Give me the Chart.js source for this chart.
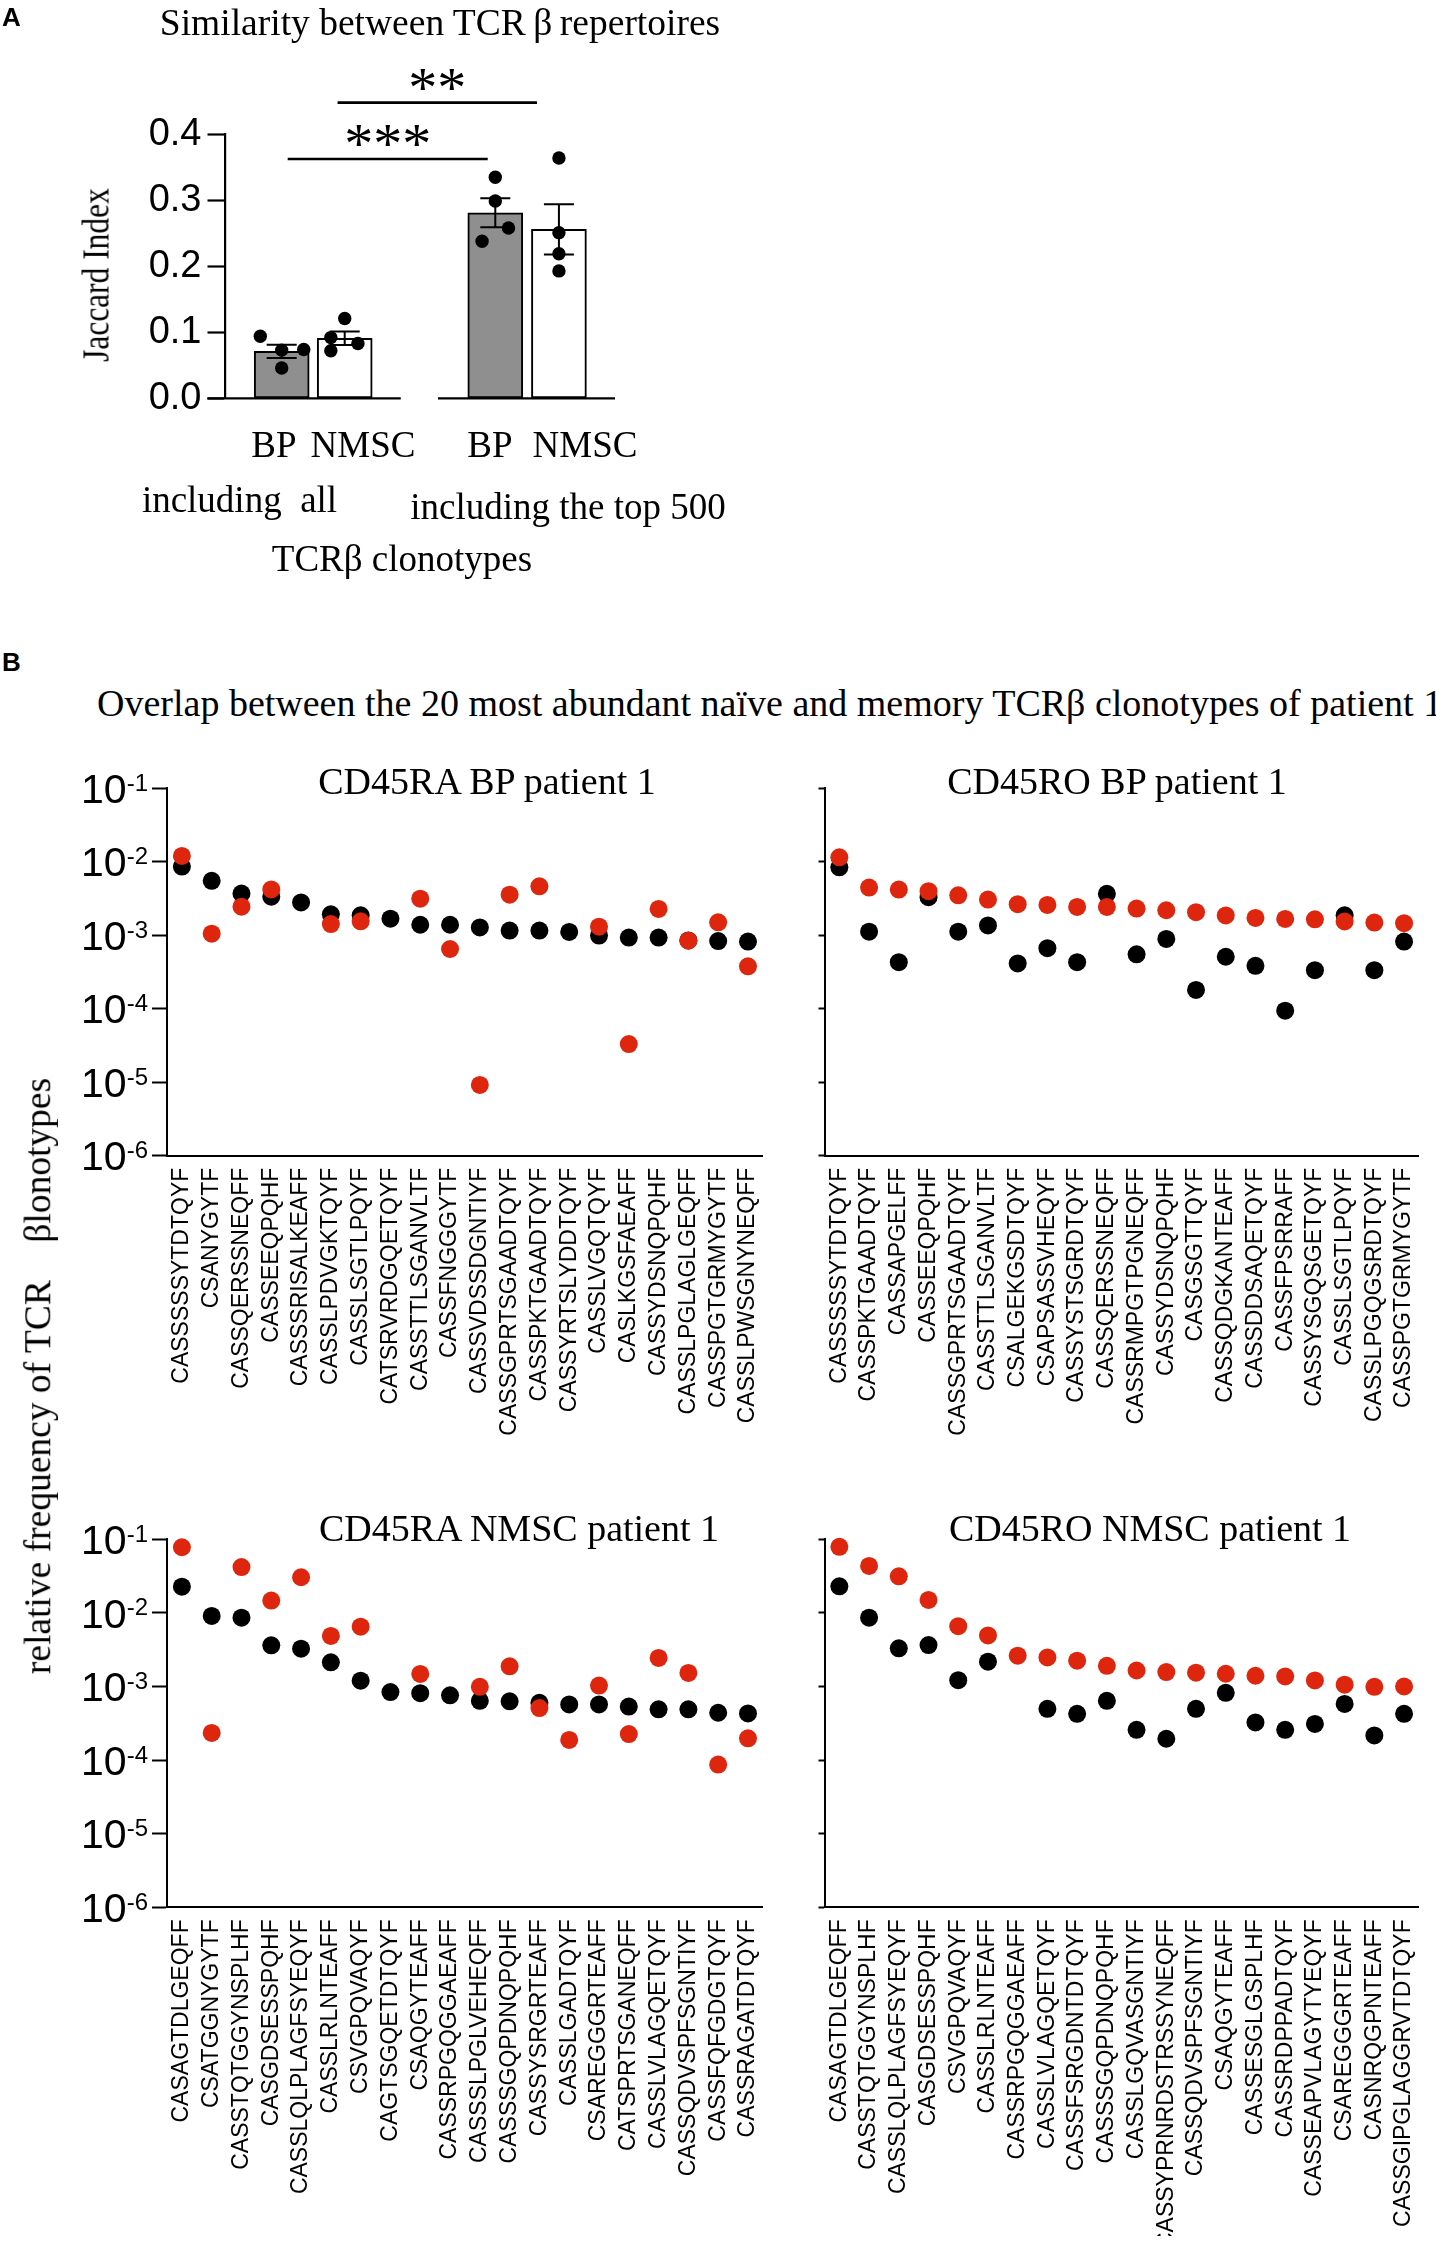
<!DOCTYPE html>
<html>
<head>
<meta charset="utf-8">
<script src="https://cdn.jsdelivr.net/npm/chart.js@4.4.1/dist/chart.umd.min.js"></script>
<style>
  body { margin: 0; background: #fff; width: 1436px; height: 2242px; position: relative; overflow: hidden; }
  canvas { position: absolute; }
  .t { position: absolute; white-space: pre; color: #000; line-height: 1; font-family: "Liberation Serif", "Times New Roman", serif; }
  .panel { font-family: "Liberation Sans", Arial, sans-serif; font-weight: bold; }
</style>
</head>
<body>
<canvas id="jaccard"></canvas>
<canvas id="raBP"></canvas>
<canvas id="roBP"></canvas>
<canvas id="raNMSC"></canvas>
<canvas id="roNMSC"></canvas>
<script>
// ---------- panel A: Jaccard index ----------
const groupLabels = ['BP', 'NMSC', 'BP', 'NMSC'];
const groupNames = ['including  all', 'including the top 500'];
const jaccardMean = [0.071, 0.091, 0.281, 0.256];
const jaccardSem = [0.0101, 0.0101, 0.022, 0.038];
const jaccardDots = [
  [0.094, 0.073, 0.074, 0.046],
  [0.121, 0.092, 0.083, 0.072],
  [0.335, 0.299, 0.258, 0.238],
  [0.364, 0.251, 0.219, 0.193]
];
const jaccardTicks = [0, 0.1, 0.2, 0.3, 0.4];
const sigLabels = ['***', '**'];

// ---------- panel B: top 20 clonotypes ----------
const yExponents = [-6, -5, -4, -3, -2, -1];

const raBPLabels = ['CASSSSSYTDTQYF', 'CSANYGYTF', 'CASSQERSSNEQFF', 'CASSEEQPQHF', 'CASSSRISALKEAFF',
  'CASSLPDVGKTQYF', 'CASSLSGTLPQYF', 'CATSRVRDGQETQYF', 'CASSTTLSGANVLTF', 'CASSFNGGGYTF',
  'CASSVDSSDGNTIYF', 'CASSGPRTSGAADTQYF', 'CASSPKTGAADTQYF', 'CASSYRTSLYDDTQYF', 'CASSLVGQTQYF',
  'CASLKGSFAEAFF', 'CASSYDSNQPQHF', 'CASSLPGLAGLGEQFF', 'CASSPGTGRMYGYTF', 'CASSLPWSGNYNEQFF'];
const raBPBlack = [8.6e-3, 5.5e-3, 3.7e-3, 3.35e-3, 2.8e-3, 1.93e-3, 1.87e-3, 1.68e-3, 1.39e-3, 1.39e-3,
  1.28e-3, 1.16e-3, 1.16e-3, 1.11e-3, 0.99e-3, 0.93e-3, 0.93e-3, 0.85e-3, 0.835e-3, 0.82e-3];
const raBPRed = [1.2e-2, 1.05e-3, 2.45e-3, 4.2e-3, null, 1.42e-3, 1.55e-3, null, 3.15e-3, 6.5e-4,
  9.2e-6, 3.57e-3, 4.64e-3, null, 1.31e-3, 3.3e-5, 2.28e-3, 8.45e-4, 1.5e-3, 3.78e-4];

const roBPLabels = ['CASSSSSYTDTQYF', 'CASSPKTGAADTQYF', 'CASSAPGELFF', 'CASSEEQPQHF', 'CASSGPRTSGAADTQYF',
  'CASSTTLSGANVLTF', 'CSALGEKGSDTQYF', 'CSAPSASSVHEQYF', 'CASSYSTSGRDTQYF', 'CASSQERSSNEQFF',
  'CASSRMPGTPGNEQFF', 'CASSYDSNQPQHF', 'CASGSGTTQYF', 'CASSQDGKANTEAFF', 'CASSDDSAQETQYF',
  'CASSFPSRRAFF', 'CASSYSGQSGETQYF', 'CASSLSGTLPQYF', 'CASSLPGQGSRDTQYF', 'CASSPGTGRMYGYTF'];
const roBPBlack = [8.4e-3, 1.12e-3, 4.3e-4, 3.3e-3, 1.12e-3, 1.36e-3, 4.13e-4, 6.67e-4, 4.3e-4, 3.66e-3,
  5.5e-4, 8.9e-4, 1.8e-4, 5.1e-4, 3.84e-4, 9.4e-5, 3.35e-4, 1.87e-3, 3.35e-4, 8.2e-4];
const roBPRed = [1.15e-2, 4.46e-3, 4.19e-3, 3.98e-3, 3.5e-3, 3.06e-3, 2.65e-3, 2.59e-3, 2.43e-3, 2.43e-3,
  2.31e-3, 2.19e-3, 2.06e-3, 1.86e-3, 1.72e-3, 1.67e-3, 1.65e-3, 1.54e-3, 1.49e-3, 1.46e-3];

const raNMSCLabels = ['CASAGTDLGEQFF', 'CSATGGNYGYTF', 'CASSTQTGGYNSPLHF', 'CASGDSESSPQHF', 'CASSLQLPLAGFSYEQYF',
  'CASSLRLNTEAFF', 'CSVGPQVAQYF', 'CAGTSGQETDTQYF', 'CSAQGYTEAFF', 'CASSRPGQGGAEAFF',
  'CASSSLPGLVEHEQFF', 'CASSSGQPDNQPQHF', 'CASSYSRGRTEAFF', 'CASSLGADTQYF', 'CSAREGGGRTEAFF',
  'CATSPRTSGANEQFF', 'CASSLVLAGQETQYF', 'CASSQDVSPFSGNTIYF', 'CASSFQFGDGTQYF', 'CASSRAGATDTQYF'];
const raNMSCBlack = [2.27e-2, 9.1e-3, 8.6e-3, 3.63e-3, 3.27e-3, 2.13e-3, 1.2e-3, 8.4e-4, 8.1e-4, 7.6e-4,
  6.4e-4, 6.3e-4, 6.0e-4, 5.7e-4, 5.7e-4, 5.33e-4, 4.9e-4, 4.9e-4, 4.4e-4, 4.3e-4];
const raNMSCRed = [7.8e-2, 2.34e-4, 4.2e-2, 1.47e-2, 3.05e-2, 4.86e-3, 6.5e-3, null, 1.48e-3, null,
  9.9e-4, 1.88e-3, 5.1e-4, 1.88e-4, 1.03e-3, 2.26e-4, 2.44e-3, 1.53e-3, 8.7e-5, 1.98e-4];

const roNMSCLabels = ['CASAGTDLGEQFF', 'CASSTQTGGYNSPLHF', 'CASSLQLPLAGFSYEQYF', 'CASGDSESSPQHF', 'CSVGPQVAQYF',
  'CASSLRLNTEAFF', 'CASSRPGQGGAEAFF', 'CASSLVLAGQETQYF', 'CASSFSRGDNTDTQYF', 'CASSSGQPDNQPQHF',
  'CASSLGQVASGNTIYF', 'CASSYPRNRDSTRSSYNEQFF', 'CASSQDVSPFSGNTIYF', 'CSAQGYTEAFF', 'CASSESGLGSPLHF',
  'CASSRDPPADTQYF', 'CASSEAPVLAGYTYEQYF', 'CSAREGGGRTEAFF', 'CASNRQGPNTEAFF', 'CASSGIPGLAGGRVTDTQYF'];
const roNMSCBlack = [2.3e-2, 8.6e-3, 3.3e-3, 3.66e-3, 1.22e-3, 2.17e-3, null, 4.98e-4, 4.26e-4, 6.4e-4,
  2.58e-4, 1.95e-4, 4.98e-4, 8.2e-4, 3.25e-4, 2.58e-4, 3.1e-4, 5.8e-4, 2.16e-4, 4.26e-4];
const roNMSCRed = [7.9e-2, 4.34e-2, 3.14e-2, 1.5e-2, 6.6e-3, 4.94e-3, 2.62e-3, 2.48e-3, 2.24e-3, 1.91e-3,
  1.65e-3, 1.57e-3, 1.54e-3, 1.49e-3, 1.4e-3, 1.37e-3, 1.21e-3, 1.06e-3, 0.99e-3, 1.0e-3];

// ---------- layout (page pixels) ----------
const RED = 'rgb(222,38,14)';
const GRAY = '#8f8f8f';
const barPos = [0.9, 1.9, 4.29, 5.3];            // x positions of the four bars (axis units)
const dotJitter = [[-0.34, 0, 0.35, 0], [0, -0.22, 0.21, -0.22], [0, 0, 0.21, -0.21], [0, 0, 0, 0]];
const axisSegments = [[-0.28, 2.79], [3.38, 6.19]];
const sigLines = [[0.995, 4.17, 0.3626], [1.786, 4.952, 0.448]];

Chart.defaults.font.family = '"Liberation Sans", Arial, sans-serif';
Chart.defaults.color = '#000';

function placeCanvas(id, box) {
  const c = document.getElementById(id);
  c.width = box.w; c.height = box.h;
  c.style.left = box.x + 'px'; c.style.top = box.y + 'px';
  c.style.width = box.w + 'px'; c.style.height = box.h + 'px';
  return c;
}

function paddingFor(box, area, yW, xH) {
  return {
    left: area.l - box.x - yW,
    top: area.t - box.y,
    right: box.x + box.w - area.r,
    bottom: box.y + box.h - area.b - xH
  };
}

// text helper: x is centre (or left edge), y is the baseline
function addText(str, x, base, size, opt) {
  opt = opt || {};
  const d = document.createElement('div');
  d.className = 't' + (opt.cls ? ' ' + opt.cls : '');
  d.textContent = str;
  d.style.fontSize = size + 'px';
  const asc = opt.cls === 'panel' ? 0.8465 : 0.8375;
  d.style.top = (base - asc * size) + 'px';
  d.style.left = x + 'px';
  if (opt.align !== 'left') d.style.transform = 'translateX(-50%)';
  document.body.appendChild(d);
}
function addRotated(str, cx, cy, size, squeeze) {
  const d = document.createElement('div');
  d.className = 't';
  d.textContent = str;
  d.style.fontSize = size + 'px';
  d.style.left = cx + 'px'; d.style.top = cy + 'px';
  d.style.transform = 'translate(-50%,-50%) rotate(-90deg) scaleX(' + (squeeze || 1) + ')';
  document.body.appendChild(d);
}

// ---------- panel A chart ----------
const jaccardDecor = {
  id: 'jaccardDecor',
  afterDatasetDraw(chart, args) {
    if (args.meta.type !== 'bar') return;
    const xs = chart.scales.x, ys = chart.scales.y, ctx = chart.ctx;
    ctx.save();
    ctx.strokeStyle = '#000'; ctx.lineWidth = 2;
    jaccardMean.forEach((m, i) => {
      const px = xs.getPixelForValue(barPos[i]);
      const y1 = ys.getPixelForValue(m + jaccardSem[i]);
      const y2 = ys.getPixelForValue(m - jaccardSem[i]);
      ctx.beginPath();
      ctx.moveTo(px, y1); ctx.lineTo(px, y2);
      ctx.moveTo(px - 15, y1); ctx.lineTo(px + 15, y1);
      ctx.moveTo(px - 15, y2); ctx.lineTo(px + 15, y2);
      ctx.stroke();
    });
    ctx.restore();
  },
  afterDraw(chart) {
    const xs = chart.scales.x, ys = chart.scales.y, ctx = chart.ctx;
    const y0 = ys.getPixelForValue(0);
    ctx.save();
    ctx.strokeStyle = '#000'; ctx.lineWidth = 2.2;
    axisSegments.forEach(s => {
      ctx.beginPath();
      ctx.moveTo(xs.getPixelForValue(s[0]), y0);
      ctx.lineTo(xs.getPixelForValue(s[1]), y0);
      ctx.stroke();
    });
    ctx.lineWidth = 2.6;
    ctx.fillStyle = '#000';
    ctx.font = '58px "Liberation Serif"';
    ctx.textAlign = 'center'; ctx.textBaseline = 'alphabetic';
    sigLines.forEach((s, i) => {
      const a = xs.getPixelForValue(s[0]), b = xs.getPixelForValue(s[1]);
      const py = ys.getPixelForValue(s[2]);
      ctx.beginPath(); ctx.moveTo(a, py); ctx.lineTo(b, py); ctx.stroke();
      ctx.fillText(sigLabels[i], (a + b) / 2, py + 4);
    });
    ctx.restore();
  }
};

const boxA = { x: 0, y: 0, w: 700, h: 600 };
const areaA = { l: 225, r: 615, t: 134.3, b: 398.3 };
const dotData = [];
jaccardDots.forEach((g, i) => g.forEach((v, j) => dotData.push({ x: barPos[i] + dotJitter[i][j], y: v })));

new Chart(placeCanvas('jaccard', boxA), {
  type: 'bar',
  data: {
    datasets: [
      {
        type: 'scatter', data: dotData, pointRadius: 6.7, pointHoverRadius: 6.7,
        pointBackgroundColor: '#000', pointBorderWidth: 0, clip: false
      },
      {
        type: 'bar',
        data: jaccardMean.map((m, i) => ({ x: barPos[i], y: m })),
        backgroundColor: [GRAY, '#fff', GRAY, '#fff'],
        borderColor: '#000', borderWidth: 2, borderSkipped: false,
        barThickness: 55
      }
    ]
  },
  options: {
    responsive: false, animation: false,
    layout: { padding: paddingFor(boxA, areaA, 120, 0), autoPadding: false },
    plugins: { legend: { display: false }, tooltip: { enabled: false } },
    scales: {
      x: { type: 'linear', display: false, offset: false, min: 0, max: 6.19 },
      y: {
        min: 0, max: 0.4,
        afterFit: s => { s.width = 120; },
        afterBuildTicks: s => { s.ticks = jaccardTicks.map(v => ({ value: v })); },
        grid: { drawOnChartArea: false, tickLength: 17.5, tickWidth: 2.2, tickColor: '#000' },
        border: { color: '#000', width: 2.2 },
        ticks: { font: { size: 38 }, padding: 6, callback: v => v.toFixed(1) }
      }
    }
  },
  plugins: [jaccardDecor]
});

// ---------- panel B charts ----------
const powerTicks = {
  id: 'powerTicks',
  afterDraw(chart, args, opts) {
    if (!opts.show) return;
    const ys = chart.scales.y, ctx = chart.ctx;
    const xEnd = chart.chartArea.left - 19;
    ctx.save();
    ctx.fillStyle = '#000';
    ctx.textBaseline = 'alphabetic';
    yExponents.forEach(e => {
      const py = ys.getPixelForValue(Math.pow(10, e));
      const sup = String(e);
      ctx.font = '24px "Liberation Sans"';
      const sw = ctx.measureText(sup).width;
      ctx.textAlign = 'left';
      ctx.fillText(sup, xEnd - sw, py + 2.5);
      ctx.font = '41px "Liberation Sans"';
      ctx.textAlign = 'right';
      ctx.fillText('10', xEnd - sw, py + 14.7);
    });
    ctx.restore();
  }
};

function clonotypeChart(id, box, area, labels, black, red, showTicks) {
  const xH = box.y + box.h - area.b - 6;
  new Chart(placeCanvas(id, box), {
    type: 'line',
    data: {
      labels: labels,
      datasets: [
        { data: red, showLine: false, pointRadius: 9, pointHoverRadius: 9, pointBackgroundColor: RED, pointBorderWidth: 0, clip: false },
        { data: black, showLine: false, pointRadius: 9, pointHoverRadius: 9, pointBackgroundColor: '#000', pointBorderWidth: 0, clip: false }
      ]
    },
    options: {
      responsive: false, animation: false,
      layout: { padding: paddingFor(box, area, 120, xH), autoPadding: false },
      plugins: { legend: { display: false }, tooltip: { enabled: false }, powerTicks: { show: showTicks } },
      scales: {
        x: {
          type: 'category', offset: true,
          afterFit: s => { s.height = xH; },
          grid: { display: false },
          border: { color: '#000', width: 2 },
          ticks: { autoSkip: false, minRotation: 90, maxRotation: 90, padding: 4, font: { size: 23 } }
        },
        y: {
          type: 'logarithmic', min: 1e-6, max: 1e-1,
          afterFit: s => { s.width = 120; },
          afterBuildTicks: s => { s.ticks = yExponents.map(e => ({ value: Math.pow(10, e) })); },
          grid: { drawOnChartArea: false, tickLength: showTicks ? 15 : 6, tickWidth: 2, tickColor: '#000' },
          border: { color: '#000', width: 2 },
          ticks: { display: false }
        }
      }
    },
    plugins: [powerTicks]
  });
}

clonotypeChart('raBP', { x: 0, y: 740, w: 780, h: 740 }, { l: 167, r: 763, t: 788.3, b: 1155.7 },
  raBPLabels, raBPBlack, raBPRed, true);
clonotypeChart('roBP', { x: 780, y: 740, w: 656, h: 740 }, { l: 824.5, r: 1423, t: 788.3, b: 1155.7 },
  roBPLabels, roBPBlack, roBPRed, false);
clonotypeChart('raNMSC', { x: 0, y: 1490, w: 780, h: 752 }, { l: 167, r: 763, t: 1539.3, b: 1907.3 },
  raNMSCLabels, raNMSCBlack, raNMSCRed, true);
clonotypeChart('roNMSC', { x: 780, y: 1490, w: 656, h: 752 }, { l: 824.5, r: 1423, t: 1539.3, b: 1907.3 },
  roNMSCLabels, roNMSCBlack, roNMSCRed, false);

// ---------- free text ----------
addText('A', 2, 26, 26, { cls: 'panel', align: 'left' });
addText('Similarity between TCR\u2009\u03b2\u2009repertoires', 440, 35.3, 37.5);
addRotated('Jaccard Index', 96, 275, 37, 0.85);
const groupLabelX = [274, 363, 490, 585];
groupLabels.forEach((g, i) => addText(g, groupLabelX[i], 456.6, 37));
addText(groupNames[0], 239.5, 512, 37);
addText(groupNames[1], 568, 519, 37);
addText('TCR\u03b2 clonotypes', 402, 570.7, 37);

addText('B', 2, 671, 26, { cls: 'panel', align: 'left' });
addText('Overlap between the 20 most abundant na\u00efve and memory TCR\u03b2 clonotypes of patient 1', 97, 716, 38, { align: 'left' });
addText('CD45RA BP patient 1', 487, 794, 38);
addText('CD45RO BP patient 1', 1117, 794, 38);
addText('CD45RA NMSC patient 1', 519, 1541, 38);
addText('CD45RO NMSC patient 1', 1150, 1541, 38);
addRotated('relative frequency of TCR    \u03b2lonotypes', 38, 1376, 37.5);
</script>
</body>
</html>
